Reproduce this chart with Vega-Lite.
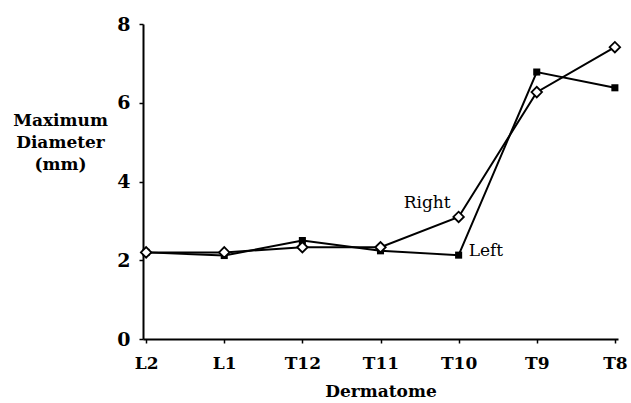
{
  "$schema": "https://vega.github.io/schema/vega-lite/v6.json",
  "width": 475,
  "height": 315,
  "autosize": "none",
  "padding": {"left": 143, "top": 24, "right": 13, "bottom": 64},
  "config": {"view": {"stroke": null}, "font": "DejaVu Serif"},
  "data": {"values": [
    {"seg": "L2", "side": "Right", "mm": 2.2},
    {"seg": "L1", "side": "Right", "mm": 2.2},
    {"seg": "T12", "side": "Right", "mm": 2.33},
    {"seg": "T11", "side": "Right", "mm": 2.33},
    {"seg": "T10", "side": "Right", "mm": 3.1},
    {"seg": "T9", "side": "Right", "mm": 6.27},
    {"seg": "T8", "side": "Right", "mm": 7.41},
    {"seg": "L2", "side": "Left", "mm": 2.2},
    {"seg": "L1", "side": "Left", "mm": 2.12},
    {"seg": "T12", "side": "Left", "mm": 2.5},
    {"seg": "T11", "side": "Left", "mm": 2.24},
    {"seg": "T10", "side": "Left", "mm": 2.13},
    {"seg": "T9", "side": "Left", "mm": 6.78},
    {"seg": "T8", "side": "Left", "mm": 6.38}
  ]},
  "encoding": {
    "x": {"field": "seg", "type": "ordinal", "sort": ["L2","L1","T12","T11","T10","T9","T8"],
      "scale": {"type": "point", "padding": 0.04},
      "axis": {"title": "Dermatome", "labelAngle": 0, "labelFont": "DejaVu Serif", "labelFontSize": 17, "labelFontWeight": "bold", "labelColor": "black",
        "titleFont": "DejaVu Serif", "titleFontSize": 17, "titleFontWeight": "bold", "titleColor": "black", "titlePadding": 12,
        "domainColor": "black", "domainWidth": 2, "tickColor": "black", "tickWidth": 1.5, "tickSize": 4, "labelPadding": 12, "grid": false}},
    "y": {"field": "mm", "type": "quantitative", "scale": {"domain": [0, 8]},
      "axis": {"values": [0,2,4,6,8], "title": ["Maximum","Diameter","(mm)"], "titleAngle": 0, "titleAlign": "center", "titleBaseline": "top",
        "titleX": -83, "titleY": 88, "titleLineHeight": 22, "titleFont": "DejaVu Serif", "titleFontSize": 17, "titleFontWeight": "bold", "titleColor": "black",
        "labelFont": "DejaVu Serif", "labelFontSize": 19, "labelFontWeight": "bold", "labelColor": "black", "labelPadding": 9,
        "domainColor": "black", "domainWidth": 2, "tickColor": "black", "tickWidth": 1.5, "tickSize": 4, "grid": false}}
  },
  "layer": [
    {"mark": {"type": "line", "color": "black", "strokeWidth": 2}, "encoding": {"detail": {"field": "side"}}},
    {"transform": [{"filter": "datum.side === 'Left'"}],
     "mark": {"type": "point", "shape": "square", "filled": true, "color": "black", "size": 50, "opacity": 1}},
    {"transform": [{"filter": "datum.side === 'Right'"}],
     "mark": {"type": "point", "shape": "diamond", "filled": true, "fill": "white", "stroke": "black", "strokeWidth": 1.8, "size": 110, "opacity": 1}},
    {"transform": [{"filter": "datum.side === 'Right' && datum.seg === 'T10'"}],
     "mark": {"type": "text", "text": "Right", "align": "right", "dx": -8, "dy": -14, "fontSize": 17, "font": "DejaVu Serif", "color": "black"}},
    {"transform": [{"filter": "datum.side === 'Left' && datum.seg === 'T10'"}],
     "mark": {"type": "text", "text": "Left", "align": "left", "dx": 10, "dy": -4, "fontSize": 17, "font": "DejaVu Serif", "color": "black"}}
  ]
}
